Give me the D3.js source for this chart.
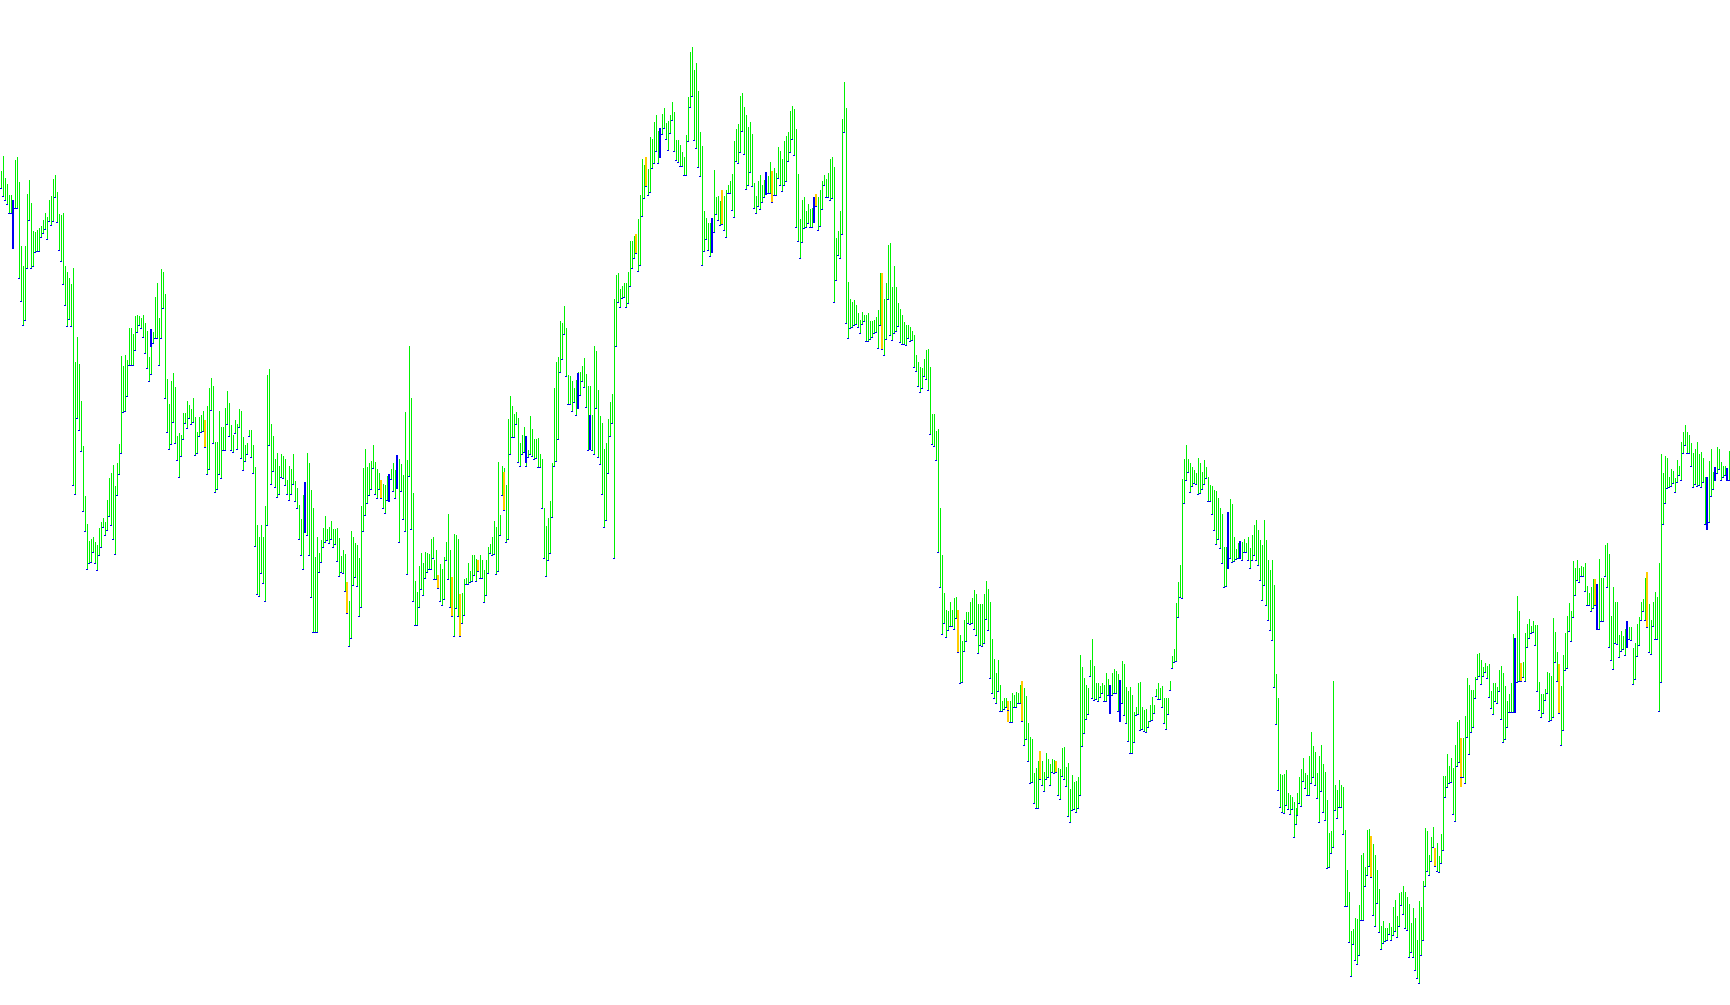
<!DOCTYPE html>
<html><head><meta charset="utf-8">
<script src="https://cdn.jsdelivr.net/npm/d3@7"></script>
<style>html,body{margin:0;padding:0;background:#fff;overflow:hidden}</style>
</head><body><svg id="c" width="1730" height="1005"></svg>
<script>
// Price units (arbitrary): high and low of each bar, in time order.
const high = [
2503,2547,2480,2463,2430,2430,2415,2535,2543,2469,2277,2217,2277,2433,2475,2405,2322,2319,2325,2330,
2337,2355,2377,2365,2415,2428,2478,2490,2439,2373,2370,2375,2217,2199,2181,2163,2212,1928,2004,1923,
1813,1678,1527,1443,1393,1398,1405,1388,1380,1432,1450,1462,1450,1515,1582,1595,1620,1558,1627,1682,
1948,1918,1950,1935,2032,2032,2012,2067,2070,2068,2060,2070,2045,2023,1945,2027,2020,2125,2165,2062,
2209,2200,2133,1879,1803,1873,1897,1855,1708,1715,1710,1775,1777,1813,1800,1789,1822,1765,1720,1763,
1770,1782,1720,1797,1852,1880,1857,1690,1690,1782,1735,1735,1792,1842,1807,1740,1710,1755,1743,1788,
1783,1703,1680,1685,1725,
1725,1680,1615,1440,1405,1440,1405,1497,1890,1907,1743,1707,1637,1655,1617,1652,1647,1637,1575,1617,
1607,1653,1572,1550,1500,1458,1530,1570,1655,1625,1545,1490,1343,1405,1355,1395,1431,1467,1427,1433,
1452,1428,1427,1431,1401,1348,1365,1353,1270,1213,1423,1403,1385,1380,1340,1497,1610,1668,1615,1627,
1633,1680,1630,1607,1597,1575,1563,1560,1587,1593,1607,1627,1605,1650,1637,1623,1590,1780,1635,1978,
1822,1537,1273,1240,1318,1357,1325,1360,1357,1353,1397,1403,1335,1365,1290,1322,1307,1343,1390,1473,
1365,1285,1413,1410,1398,1233,1235,1277,1280,1325,1303,1350,1350,1338,1335,1350,1335,1305,1335,1375,
1383,1403,1452,1435,1630,
1470,1617,1612,1560,1759,1826,1797,1774,1779,1761,1686,1709,1733,1666,1666,1767,1728,1697,1697,1702,
1653,1637,1490,1436,1461,1511,1626,1852,1929,1945,2053,2046,2098,2032,1890,1886,1872,1852,1875,1898,
1898,1916,1942,1893,1857,1857,1771,1976,1962,1846,1767,1746,1668,1686,1759,1810,1834,2118,2190,2195,
2149,2156,2167,2167,2200,2291,2293,2306,2314,2358,2430,2539,2521,2544,2508,2604,2599,2650,2670,2621,
2632,2673,2691,2647,2652,2671,2709,2680,2595,2595,2580,2559,2544,2611,2725,2859,2874,2805,2826,2742,
2619,2578,2381,2361,2347,2347,2361,2506,2425,2427,2413,2446,2428,2446,2461,2471,2492,2592,2628,2642,
2728,2735,2694,2670,2635,2649,
2612,2467,2428,2473,2491,2461,2475,2499,2487,2529,2503,2511,2497,2574,2562,2538,2592,2607,2619,2683,
2698,2689,2627,2494,2357,2416,2425,2382,2402,2388,2392,2425,2434,2425,2446,2473,2491,2479,2497,2538,
2544,2514,2301,2322,2382,2657,2769,2692,2170,2117,2108,2115,2099,2076,2055,2079,2070,2070,2076,2052,
2052,2055,2064,2084,2197,2197,2119,2165,2280,2287,2155,2216,2155,2105,2087,2070,2050,2040,2040,2034,
2022,2010,1949,1930,1913,1910,1937,1965,1969,1913,1773,1773,1723,1728,1492,1349,1237,1186,1183,1210,
1186,1222,1225,1186,1111,1091,1154,1180,1178,1210,1222,1245,1234,1204,1204,1204,1234,1273,1249,1210,
1097,1038,
995,1035,960,913,920,922,910,913,935,930,938,935,960,972,950,927,847,805,797,695,
712,732,762,732,700,755,737,722,737,735,732,710,707,770,775,715,727,648,690,670,
672,685,1050,1013,980,960,950,1035,1098,1017,967,967,957,967,960,995,977,960,997,1007,
1002,992,975,1033,1023,955,943,953,930,878,893,967,968,895,885,887,853,900,925,900,
948,965,952,957,920,922,922,973,1047,1068,1205,1268,1320,1577,1638,1680,1637,1625,1613,1605,
1595,1640,1625,1600,1635,1615,1585,1560,1557,1545,1542,1520,1490,1473,1375,1375,1480,1518,1503,1405,
1368,1385,1392,1390,1398,1385,1403,1370,
1410,1440,1455,1425,1395,1380,1455,1395,1335,1305,1335,
1260,993,920,693,690,693,705,635,630,623,608,592,635,685,708,742,697,690,747,818,
777,760,695,747,780,723,700,615,515,522,972,660,645,675,660,655,525,405,338,222,
228,260,258,300,450,457,415,525,527,508,483,450,405,348,237,252,232,232,245,235,
295,315,268,335,338,357,338,325,303,247,292,262,195,313,293,373,532,522,450,505,
533,470,487,448,513,688,688,753,717,742,712,780,850,855,802,802,867,982,960,945,
945,983,1053,1057,1035,1015,1027,1017,1023,942,967,967,953,1005,
1017,995,958,912,933,967,1112,1102,1228,1183,1027,1030,1117,1143,1158,1137,1152,1140,1140,968,
932,933,947,1000,995,988,1162,1118,1060,1023,958,1050,1117,1168,1205,1182,1333,1312,1335,1310,
1318,1315,1327,1258,1237,1253,1278,1278,1263,1337,1282,1282,1380,1387,1352,1168,1255,1210,1210,1110,
1122,1108,1127,1152,1133,1135,1070,1087,1142,1165,1210,1217,1282,1298,1202,1155,1210,1238,1225,1327,
1653,1597,1647,1640,1585,1608,1602,1580,1635,1618,1690,1718,1740,1718,1710,1685,1655,1668,1688,1652,
1660,1640,1585,1583,1633,1668,1600,1613,1673,1668,1630,1618,1617,1612,1662
];
const low = [
2450,2427,2415,2403,2375,2375,2292,2390,2390,2180,2112,2040,2055,2210,2355,2210,2217,2258,2262,2262,
2303,2315,2327,2297,2352,2340,2352,2423,2349,2265,2232,2163,2100,2037,2057,2037,1560,1533,1760,1725,
1662,1482,1422,1308,1325,1328,1358,1325,1305,1350,1373,1433,1410,1425,1467,1440,1398,1353,1530,1593,
1655,1778,1782,1827,1920,1920,1920,1965,2018,2040,2030,2003,1955,1910,1872,1893,1987,2000,2000,1920,
2000,2090,1820,1718,1668,1683,1748,1685,1635,1583,1648,1698,1745,1730,1760,1743,1748,1650,1655,1707,
1720,1723,1675,1593,1608,1785,1685,1538,1548,1593,1580,1665,1665,1743,1707,1665,1658,1715,1668,1735,
1640,1605,1632,1652,1708,
1643,1595,1377,1232,1228,1295,1265,1212,1440,1680,1562,1602,1553,1523,1532,1585,1582,1560,1532,1515,
1532,1562,1512,1490,1397,1349,1307,1480,1410,1349,1223,1118,1120,1120,1298,1328,1373,1388,1395,1385,
1399,1375,1382,1333,1287,1298,1295,1242,1175,1077,1100,1260,1283,1257,1167,1193,1422,1470,1507,1530,
1547,1612,1533,1520,1548,1520,1490,1475,1515,1513,1578,1542,1520,1550,1388,1542,1457,1422,1292,1588,
1427,1212,1140,1140,1193,1247,1230,1280,1298,1308,1307,1340,1278,1277,1252,1213,1200,1218,1335,1277,
1195,1168,1108,1190,1168,1108,1145,1170,1262,1262,1270,1273,1290,1273,1303,1280,1280,1210,1230,1295,
1357,1350,1352,1292,1303,
1411,1529,1485,1389,1399,1653,1704,1704,1743,1630,1617,1653,1658,1617,1645,1652,1647,1637,1642,1614,
1614,1490,1342,1286,1335,1356,1464,1617,1633,1699,1900,1939,2012,1886,1803,1803,1782,1808,1771,1790,
1829,1872,1854,1793,1666,1771,1666,1653,1790,1643,1622,1533,1433,1454,1597,1707,1746,1340,1978,2110,
2094,2122,2125,2094,2105,2158,2211,2241,2255,2201,2220,2366,2422,2458,2430,2440,2511,2526,2562,2526,
2544,2614,2632,2599,2564,2616,2655,2561,2535,2528,2516,2516,2489,2489,2592,2694,2727,2595,2570,2513,
2487,2221,2263,2298,2265,2247,2260,2320,2373,2356,2340,2342,2325,2304,2437,2437,2386,2365,2531,2526,
2559,2623,2554,2448,2459,2499,
2457,2390,2376,2396,2388,2410,2423,2434,2435,2435,2408,2431,2431,2481,2461,2441,2461,2473,2532,2558,
2597,2550,2333,2293,2242,2289,2331,2333,2346,2333,2333,2348,2398,2325,2337,2388,2461,2425,2423,2416,
2420,2109,2176,2250,2242,2313,2619,2046,2001,2032,2034,2040,2044,2034,2016,2044,2052,1993,1993,1999,
2004,2016,2020,1972,2040,1969,1951,1999,2119,2010,1995,2016,2022,2038,1989,1984,1983,1981,2001,1993,
1995,1913,1901,1856,1838,1850,1888,1878,1844,1714,1684,1678,1634,1358,1255,1113,1145,1103,1124,1136,
1136,1129,1162,1058,967,969,1062,1091,1145,1142,1147,1129,1111,1056,1079,1077,1085,1159,1124,981,
935,920,
907,942,882,882,887,895,885,848,850,895,893,905,905,853,780,798,732,667,668,605,
592,592,677,660,642,678,685,660,700,695,698,630,617,687,678,657,567,548,585,588,
580,592,630,777,815,858,873,987,920,915,918,913,923,935,912,912,930,877,930,935,
935,882,853,905,870,845,792,755,755,790,870,873,825,827,823,820,833,852,855,877,
927,917,917,895,845,828,873,945,1012,1030,1033,1163,1223,1220,1507,1575,1600,1540,1557,1565,
1562,1533,1535,1547,1563,1582,1512,1512,1472,1425,1383,1397,1370,1325,1255,1258,1310,1340,1330,1333,
1337,1342,1340,1335,1360,1359,1335,1312,
1335,1350,1335,1320,1275,1215,1260,1200,1155,1125,1095,
953,842,645,593,578,575,600,588,572,588,503,542,570,605,597,672,650,630,630,665,
683,660,620,548,642,578,555,410,413,455,473,585,560,593,593,513,297,297,188,87,
183,135,123,150,255,255,357,390,417,385,270,237,305,218,168,185,192,195,213,195,
210,222,205,238,300,273,232,225,145,160,145,105,82,67,150,195,357,403,390,433,
475,417,403,398,425,465,625,653,665,670,573,552,717,728,685,685,665,803,753,820,
833,920,978,988,963,987,1000,980,923,890,873,913,907,943,
858,790,798,835,878,880,880,880,970,972,972,985,972,1073,1102,1115,1120,1080,943,885,
865,875,915,937,852,855,865,1028,972,877,780,825,1005,1010,1122,1092,1163,1230,1275,1270,
1287,1287,1242,1200,1200,1182,1190,1200,1127,1127,1152,1152,1287,1255,1073,1035,1008,1085,1083,1045,
1062,1067,1050,1073,1097,1095,963,978,1047,1080,1155,1182,1155,1135,1060,1052,1137,1098,1098,882,
968,1442,1505,1550,1555,1558,1565,1538,1570,1590,1575,1655,1680,1655,1657,1617,1553,1562,1557,1560,
1555,1570,1442,1427,1448,1527,1547,1575,1595,1608,1575,1583,1590,1575,1575
];
// Wide body marks: bar index, top, bottom, kind (0 = falling, 1 = rising)
const markIndex = [6,75,102,152,173,190,194,198,219,226,230,239,252,263,289,295,318,323,330,356,361,383,386,407,408,441,479,504,511,520,528,555,560,614,620,686,718,731,758,761,780,798,799,814,824,854,858,864];
const markTop = [2415,2028,1755,1570,1270,1575,1593,1650,1290,1285,1233,1335,1599,1707,1896,1771,2314,2544,2632,2361,2446,2499,2503,2425,2434,2197,1186,913,972,762,732,960,975,1480,1392,508,470,802,1102,1027,1023,1278,1263,1152,1298,1583,1613,1612];
const markBottom = [2268,1973,1675,1415,1175,1520,1513,1550,1252,1168,1108,1303,1485,1627,1790,1666,2255,2458,2544,2260,2344,2434,2408,2348,2398,1969,1058,848,853,677,698,877,853,1310,1340,385,417,653,880,972,877,1200,1127,1073,1135,1427,1575,1575];
const markKind = [0,0,1,0,1,1,0,0,1,1,1,1,1,0,0,0,1,1,0,0,1,0,1,0,1,1,1,1,1,1,1,0,0,0,0,1,1,1,0,1,1,1,0,0,1,0,0,0];

const W = 1730, H = 1005;
const GREEN = "#00f000", BLUE = "#0000f0", GOLD = "#ffcc00";
const n = Math.min(high.length, low.length);
const x = d3.scaleLinear().domain([0, n - 1]).range([1, W - 1]);
const y = d3.scaleLinear().domain([0, 3015]).range([H, 0]);
const px = i => Math.round(x(i));
const py = v => Math.round(y(v));

const svg = d3.select("#c").attr("shape-rendering", "crispEdges");
const bars = d3.range(n).map(i => ({ i, h: high[i], l: low[i] }));

svg.append("g").selectAll("rect").data(bars).join("rect")
  .attr("x", d => px(d.i))
  .attr("y", d => py(d.h))
  .attr("width", 1)
  .attr("height", d => Math.max(1, py(d.l) - py(d.h)))
  .attr("fill", GREEN);

const marks = markIndex.map((idx, k) => ({ idx, t: markTop[k], b: markBottom[k], k: markKind[k] }));
svg.append("g").selectAll("rect").data(marks).join("rect")
  .attr("x", d => px(d.idx) - 1)
  .attr("y", d => py(d.t))
  .attr("width", 2)
  .attr("height", d => Math.max(1, py(d.b) - py(d.t)))
  .attr("fill", d => d.k ? GOLD : BLUE);

svg.append("g").selectAll("rect").data(bars).join("rect")
  .attr("x", d => px(d.i) - 1)
  .attr("y", d => py(d.l))
  .attr("width", 2)
  .attr("height", 1)
  .attr("fill", BLUE);
</script>
</body></html>
